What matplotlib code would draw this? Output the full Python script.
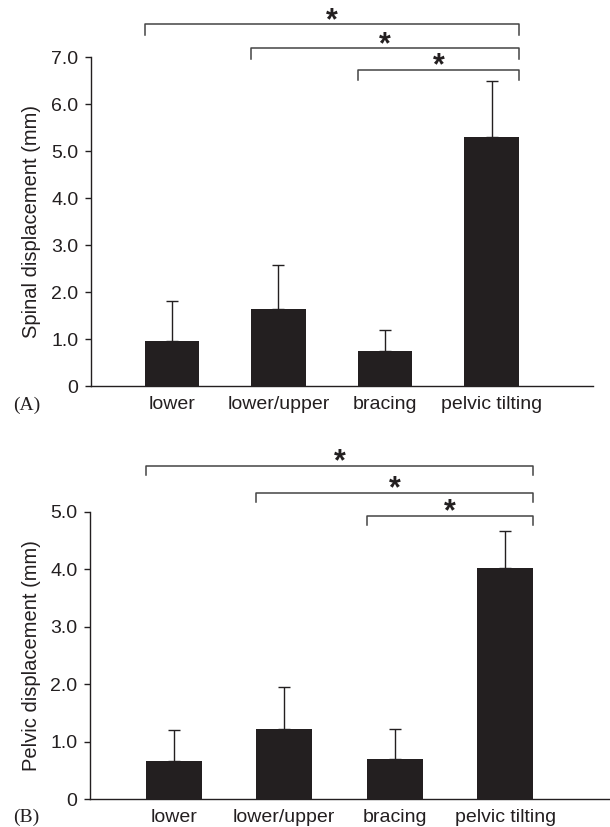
import matplotlib
import numpy as np

matplotlib.use("Agg")
import matplotlib.pyplot as plt

plt.rcParams["font.family"] = ["Liberation Sans", "DejaVu Sans"]

# data
categories = ["lower", "lower/upper", "bracing", "pelvic tilting"]

spinal_mean = [0.97, 1.65, 0.745, 5.31]
spinal_err = [0.85, 0.93, 0.445, 1.18]
spinal_ticks = [0, 1, 2, 3, 4, 5, 6, 7]
spinal_ticklabels = ["0", "1.0", "2.0", "3.0", "4.0", "5.0", "6.0", "7.0"]

pelvic_mean = [0.67, 1.22, 0.70, 4.02]
pelvic_err = [0.53, 0.74, 0.53, 0.65]
pelvic_ticks = [0, 1, 2, 3, 4, 5]
pelvic_ticklabels = ["0", "1.0", "2.0", "3.0", "4.0", "5.0"]

# significance brackets: (from bar, to bar)
sig_pairs = [(0, 3), (1, 3), (2, 3)]
spinal_sig_levels = [7.70, 7.20, 6.74]
pelvic_sig_levels = [5.80, 5.33, 4.93]

BAR_COLOR = "#231f20"
LINE_COLOR = "#231f20"
BAR_WIDTH = 0.51


def draw_panel(ax, means, errs, ticks, ticklabels, ylabel, sig_levels, drop):
    x = np.arange(len(categories))
    ax.bar(x, means, width=BAR_WIDTH, color=BAR_COLOR, linewidth=0, zorder=3)
    ax.errorbar(
        x,
        means,
        yerr=[np.zeros(len(errs)), errs],
        fmt="none",
        ecolor=LINE_COLOR,
        elinewidth=1.0,
        capsize=4.5,
        capthick=1.0,
        zorder=2,
    )

    ax.set_xlim(-0.76, 3.95)
    ax.set_ylim(0, ticks[-1])
    ax.set_yticks(ticks)
    ax.set_yticklabels(ticklabels)
    ax.set_xticks(x)
    ax.set_xticklabels(categories)
    ax.tick_params(axis="y", length=4, width=1, pad=5, labelsize=14, colors=LINE_COLOR)
    ax.tick_params(axis="x", length=0, pad=7, labelsize=14, colors=LINE_COLOR)
    ax.set_ylabel(ylabel, fontsize=14.5, color=LINE_COLOR, labelpad=7)

    for side in ["top", "right"]:
        ax.spines[side].set_visible(False)
    for side in ["left", "bottom"]:
        ax.spines[side].set_color(LINE_COLOR)
        ax.spines[side].set_linewidth(1.0)

    # significance brackets
    for (i, j), level in zip(sig_pairs, sig_levels):
        x0 = x[i] - BAR_WIDTH / 2
        x1 = x[j] + BAR_WIDTH / 2
        ax.plot(
            [x0, x0, x1, x1],
            [level - drop, level, level, level - drop],
            color="#444444",
            lw=1.1,
            clip_on=False,
        )
        ax.annotate(
            "*",
            xy=((x0 + x1) / 2, level),
            xytext=(0, -3.5),
            textcoords="offset points",
            ha="center",
            va="baseline",
            fontsize=22,
            fontweight="bold",
            color=LINE_COLOR,
            annotation_clip=False,
        )


fig = plt.figure(figsize=(6.1, 8.27), dpi=100)

ax1 = fig.add_axes([0.149, 0.533, 0.823, 0.3977])
draw_panel(
    ax1,
    spinal_mean,
    spinal_err,
    spinal_ticks,
    spinal_ticklabels,
    "Spinal displacement (mm)",
    spinal_sig_levels,
    0.23,
)

ax2 = fig.add_axes([0.1475, 0.0335, 0.8525, 0.3478])
draw_panel(
    ax2,
    pelvic_mean,
    pelvic_err,
    pelvic_ticks,
    pelvic_ticklabels,
    "Pelvic displacement (mm)",
    pelvic_sig_levels,
    0.17,
)

serif = ["Liberation Serif", "DejaVu Serif"]
fig.text(0.022, 1 - 405 / 827, "(A)", fontsize=14, family=serif, color=LINE_COLOR, va="center")
fig.text(0.022, 1 - 817 / 827, "(B)", fontsize=14, family=serif, color=LINE_COLOR, va="center")

fig.savefig("out.png", dpi=100)
plt.close(fig)
